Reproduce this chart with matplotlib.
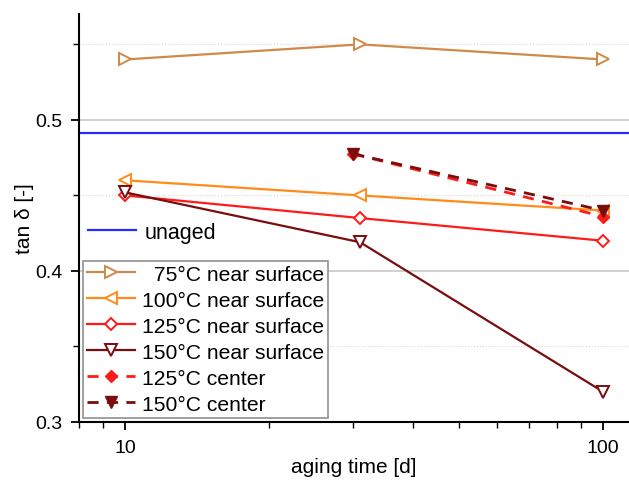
import numpy as np
from matplotlib import pyplot as plt
from matplotlib.ticker import MultipleLocator, LogLocator, NullFormatter

plt.rcParams['font.family'] = ['Liberation Sans', 'DejaVu Sans']

# data
t_surf = [10, 31, 100]
t_center = [30, 100]
unaged = 0.491
tan_75 = [0.540, 0.550, 0.540]
tan_100 = [0.460, 0.450, 0.440]
tan_125 = [0.450, 0.435, 0.420]
tan_150 = [0.452, 0.419, 0.320]
tan_125c = [0.4775, 0.436]
tan_150c = [0.4775, 0.440]

fig = plt.figure(figsize=(6.29, 4.89), dpi=100)
ax = fig.add_axes([0.1256, 0.135, 0.8744, 0.834])

ax.set_xscale('log')
ax.set_xlim(8.0, 113.3)
ax.set_ylim(0.3, 0.57)

# grid
ax.yaxis.set_major_locator(MultipleLocator(0.1))
ax.yaxis.set_minor_locator(MultipleLocator(0.05))
ax.grid(True, which='major', axis='y', color='#c8c8c8', lw=1.2)
ax.grid(True, which='minor', axis='y', color='#d8d8d8', lw=0.8, ls=':')
ax.set_axisbelow(True)

hu, = ax.plot([8.0, 113.3], [unaged, unaged], color='#2a2aff', lw=1.6, label='unaged')

h75, = ax.plot(t_surf, tan_75, color='#d08a48', lw=1.6, marker='>', ms=8.5, mfc='white',
               mew=1.4, label='  75°C near surface')
h100, = ax.plot(t_surf, tan_100, color='#ff8c1a', lw=1.6, marker='<', ms=8.5, mfc='white',
                mew=1.4, label='100°C near surface')
h125, = ax.plot(t_surf, tan_125, color='#ff1a1a', lw=1.6, marker='D', ms=6.5, mfc='white',
                mew=1.4, label='125°C near surface')
h150, = ax.plot(t_surf, tan_150, color='#7a0d0d', lw=1.6, marker='v', ms=8.5, mfc='white',
                mew=1.4, label='150°C near surface')
h125c, = ax.plot(t_center, tan_125c, color='#ff1a1a', lw=2.0, ls=(0, (4, 3)), marker='D', ms=6.5,
                 label='125°C center')
h150c, = ax.plot(t_center, tan_150c, color='#7a0d0d', lw=2.0, ls=(0, (4, 3)), marker='v', ms=8.5,
                 label='150°C center')

ax.xaxis.set_minor_locator(LogLocator(base=10, subs=np.arange(2, 10)))
ax.xaxis.set_minor_formatter(NullFormatter())
ax.set_xticks([10, 100])
ax.set_xticklabels(['10', '100'])

for s in ['top', 'right']:
    ax.spines[s].set_visible(False)
ax.spines['left'].set_linewidth(1.5)
ax.spines['bottom'].set_linewidth(1.5)
ax.tick_params(which='major', direction='out', length=6, width=1.3, labelsize=14, pad=6)
ax.tick_params(which='minor', direction='out', length=4, width=1.0)

ax.set_xlabel('aging time [d]', fontsize=15, labelpad=1)
ax.set_ylabel('tan δ [-]', fontsize=15, labelpad=1)

leg1 = ax.legend(handles=[hu], loc='center left', bbox_to_anchor=(0.016, 0.465), frameon=False,
                 fontsize=15.5, handlelength=2.25, borderpad=0, borderaxespad=0, handletextpad=0.4)
ax.add_artist(leg1)
leg2 = ax.legend(handles=[h75, h100, h125, h150, h125c, h150c], loc='lower left',
                 bbox_to_anchor=(0.007, 0.01), fontsize=15.2, handlelength=2.25, fancybox=False,
                 edgecolor='#909090', framealpha=1, labelspacing=0.33, borderpad=0.2,
                 handletextpad=0.35, borderaxespad=0)
leg2.get_frame().set_linewidth(1.2)

fig.savefig('out.png', dpi=100)
